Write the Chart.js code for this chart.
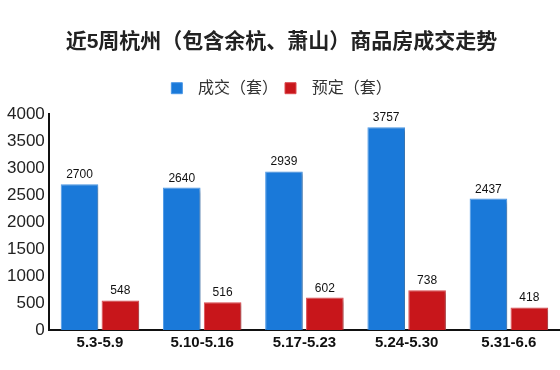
<!DOCTYPE html>
<html>
<head>
<meta charset="utf-8">
<script src="https://cdn.jsdelivr.net/npm/chart.js@4"></script>
<style>
    html, body { margin: 0; padding: 0; background: #fff; }
    .wrap { width: 560px; height: 370px; }
</style>
</head>
<body>
<div class="wrap"><canvas class="trade-chart"></canvas></div>
<script>
const weeks = ["5.3-5.9", "5.10-5.16", "5.17-5.23", "5.24-5.30", "5.31-6.6"];
const dealAmount = [2700, 2640, 2939, 3757, 2437];
const bookAmount = [548, 516, 602, 738, 418];
const yTicks = [0, 500, 1000, 1500, 2000, 2500, 3000, 3500, 4000];

const FONT = '"Liberation Sans", Arial, "Noto Sans CJK SC", sans-serif';
const tradeChart = document.querySelector(".trade-chart").getContext("2d");

// extra room under the legend
const legendGap = {
    id: "legendGap",
    beforeInit(chart) {
        const fit = chart.legend.fit;
        chart.legend.fit = function () {
            fit.call(this);
            this.height += 8;
        };
    },
};

// soft shadow under the bars
const barShadow = {
    id: "barShadow",
    beforeDatasetsDraw(chart) {
        const ctx = chart.ctx;
        ctx.save();
        ctx.shadowColor = "rgba(0,0,0,0.25)";
        ctx.shadowBlur = 3;
        ctx.shadowOffsetX = 3;
        ctx.shadowOffsetY = 2;
    },
    afterDatasetsDraw(chart) {
        chart.ctx.restore();
    },
};

// value above each bar
const valueLabels = {
    id: "valueLabels",
    afterDraw(chart) {
        const ctx = chart.ctx;
        ctx.save();
        ctx.font = "12px " + FONT;
        ctx.fillStyle = "#111";
        ctx.textAlign = "center";
        ctx.textBaseline = "alphabetic";
        chart.data.datasets.forEach((ds, i) => {
            chart.getDatasetMeta(i).data.forEach((bar, j) => {
                ctx.fillText(ds.data[j], bar.x, bar.y - 6);
            });
        });
        ctx.restore();
    },
};

new Chart(tradeChart, {
    type: "bar",
    data: {
        labels: weeks,
        datasets: [
            {
                label: "成交（套）",
                data: dealAmount,
                backgroundColor: "#1a79d9",
                borderColor: "#4a97e6",
                borderWidth: 1,
            },
            {
                label: "预定（套）",
                data: bookAmount,
                backgroundColor: "#c8161b",
                borderColor: "#dc4a4f",
                borderWidth: 1,
            },
        ],
    },
    options: {
        responsive: true,
        maintainAspectRatio: false,
        animation: false,
        datasets: {
            bar: {
                categoryPercentage: 0.8,
                barPercentage: 0.92,
            },
        },
        layout: {
            padding: { left: 3, right: 0, top: 0, bottom: 14 },
        },
        scales: {
            x: {
                grid: { display: false, drawTicks: false },
                border: { display: true, color: "#111", width: 2 },
                ticks: {
                    color: "#111",
                    padding: 4,
                    font: { family: FONT, size: 15, weight: "bold" },
                },
            },
            y: {
                min: 0,
                max: 4000,
                afterBuildTicks: (axis) => {
                    axis.ticks = yTicks.map((v) => ({ value: v }));
                },
                grid: { display: false, drawTicks: false },
                border: { display: true, color: "#111", width: 2 },
                ticks: {
                    color: "#222",
                    padding: 4,
                    font: { family: FONT, size: 17 },
                    callback: (value) => String(value),
                },
            },
        },
        plugins: {
            title: {
                display: true,
                text: "近5周杭州（包含余杭、萧山）商品房成交走势",
                color: "#222",
                font: { family: FONT, size: 21, weight: "bold" },
                padding: { top: 30, bottom: 18 },
            },
            legend: {
                display: true,
                labels: {
                    color: "#333",
                    boxWidth: 11,
                    boxHeight: 11,
                    padding: 7,
                    font: { family: FONT, size: 16 },
                    generateLabels: (chart) =>
                        Chart.defaults.plugins.legend.labels
                            .generateLabels(chart)
                            .map((item) => ({ ...item, text: " \u2009" + item.text })),
                },
            },
            tooltip: { enabled: false },
        },
    },
    plugins: [legendGap, barShadow, valueLabels],
});
</script>
</body>
</html>
